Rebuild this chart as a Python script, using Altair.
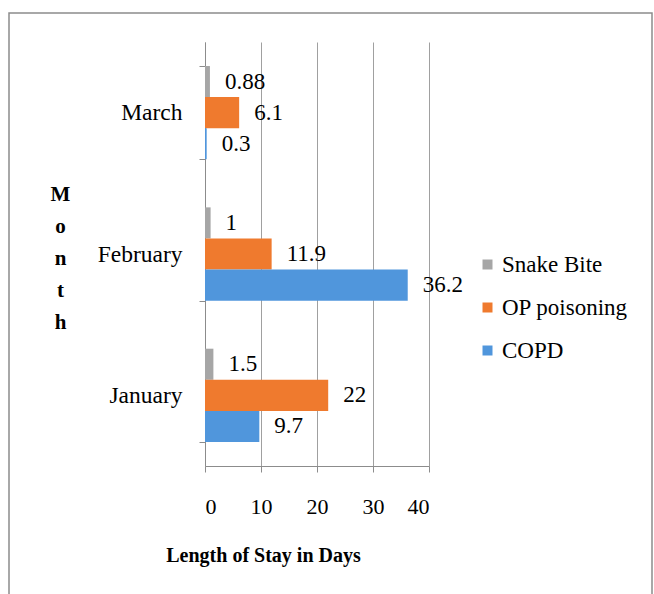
import altair as alt
import pandas as pd

months = ["January", "February", "March"]
series = ["Snake Bite", "OP poisoning", "COPD"]
snake_bite = [1.5, 1, 0.88]
op_poisoning = [22, 11.9, 6.1]
copd = [9.7, 36.2, 0.3]
x_ticks = [0, 10, 20, 30, 40]
colors = ["#a6a6a6", "#ef7a2e", "#5096dc"]

rows = []
for i, m in enumerate(months):
    for s, vals in zip(series, [snake_bite, op_poisoning, copd]):
        rows.append({"Month": m, "Series": s, "Value": vals[i], "Label": f"{vals[i]:g}"})
df = pd.DataFrame(rows)

FONT = "Liberation Serif"
month_order = ["March", "February", "January"]

y_enc = alt.Y(
    "Month:N",
    sort=month_order,
    scale=alt.Scale(paddingInner=0.34, paddingOuter=0.17),
    axis=alt.Axis(
        title=["M", "o", "n", "t", "h"],
        titleAngle=0,
        titleAlign="center",
        titleBaseline="top",
        titleX=-145,
        titleY=141,
        titleLineHeight=32,
        titleFont=FONT,
        titleFontSize=21,
        titleFontWeight="bold",
        titleColor="black",
        labelFont=FONT,
        labelFontSize=23.5,
        labelColor="black",
        labelPadding=17,
        tickBand="extent",
        tickSize=6,
        tickColor="#8c8c8c",
        domainColor="#8c8c8c",
        grid=False,
    ),
)
yoff = alt.YOffset("Series:N", sort=series, scale=alt.Scale(paddingInner=0, paddingOuter=0))
x_enc = alt.X(
    "Value:Q",
    scale=alt.Scale(domain=[0, 40], nice=False),
    axis=alt.Axis(
        values=x_ticks,
        title="Length of Stay in Days",
        titleFont=FONT,
        titleFontSize=20,
        titleFontWeight="bold",
        titleColor="black",
        titleX=58,
        titleY=89,
        titleAlign="center",
        titleBaseline="middle",
        labelFont=FONT,
        labelFontSize=22,
        labelColor="black",
        labelPadding=24,
        tickSize=6,
        tickColor="#8c8c8c",
        domainColor="#8c8c8c",
        gridColor="#a0a0a0",
        grid=True,
    ),
)

bars = alt.Chart(df).mark_bar().encode(
    x=x_enc,
    y=y_enc,
    yOffset=yoff,
    color=alt.Color(
        "Series:N",
        scale=alt.Scale(domain=series, range=colors),
        legend=alt.Legend(
            title=None,
            orient="none",
            legendX=271,
            legendY=211,
            padding=0,
            symbolType="square",
            symbolSize=100,
            symbolStrokeWidth=0,
            labelFont=FONT,
            labelFontSize=23,
            labelColor="black",
            labelOffset=3,
            rowPadding=19,
        ),
    ),
)

labels = alt.Chart(df).mark_text(
    align="left", baseline="middle", dx=15, font=FONT, fontSize=23, color="black"
).encode(
    x="Value:Q",
    y=alt.Y("Month:N", sort=month_order),
    yOffset=yoff,
    text="Label:N",
)

frame = alt.Chart(pd.DataFrame({"a": [0]})).mark_rect(
    fill=None, stroke="#8c8c8c", strokeWidth=1.5
).encode(
    x=alt.value(-196), x2=alt.value(447), y=alt.value(-29), y2=alt.value(600)
)

chart = alt.layer(frame, bars, labels).properties(
    width=224,
    height=424,
    autosize=alt.AutoSizeParams(type="none"),
    padding={"left": 205, "top": 42, "right": 225, "bottom": 128},
    background="white",
).configure_view(stroke=None)

chart.save("out.html", embed_options={"renderer": "svg", "actions": False})
